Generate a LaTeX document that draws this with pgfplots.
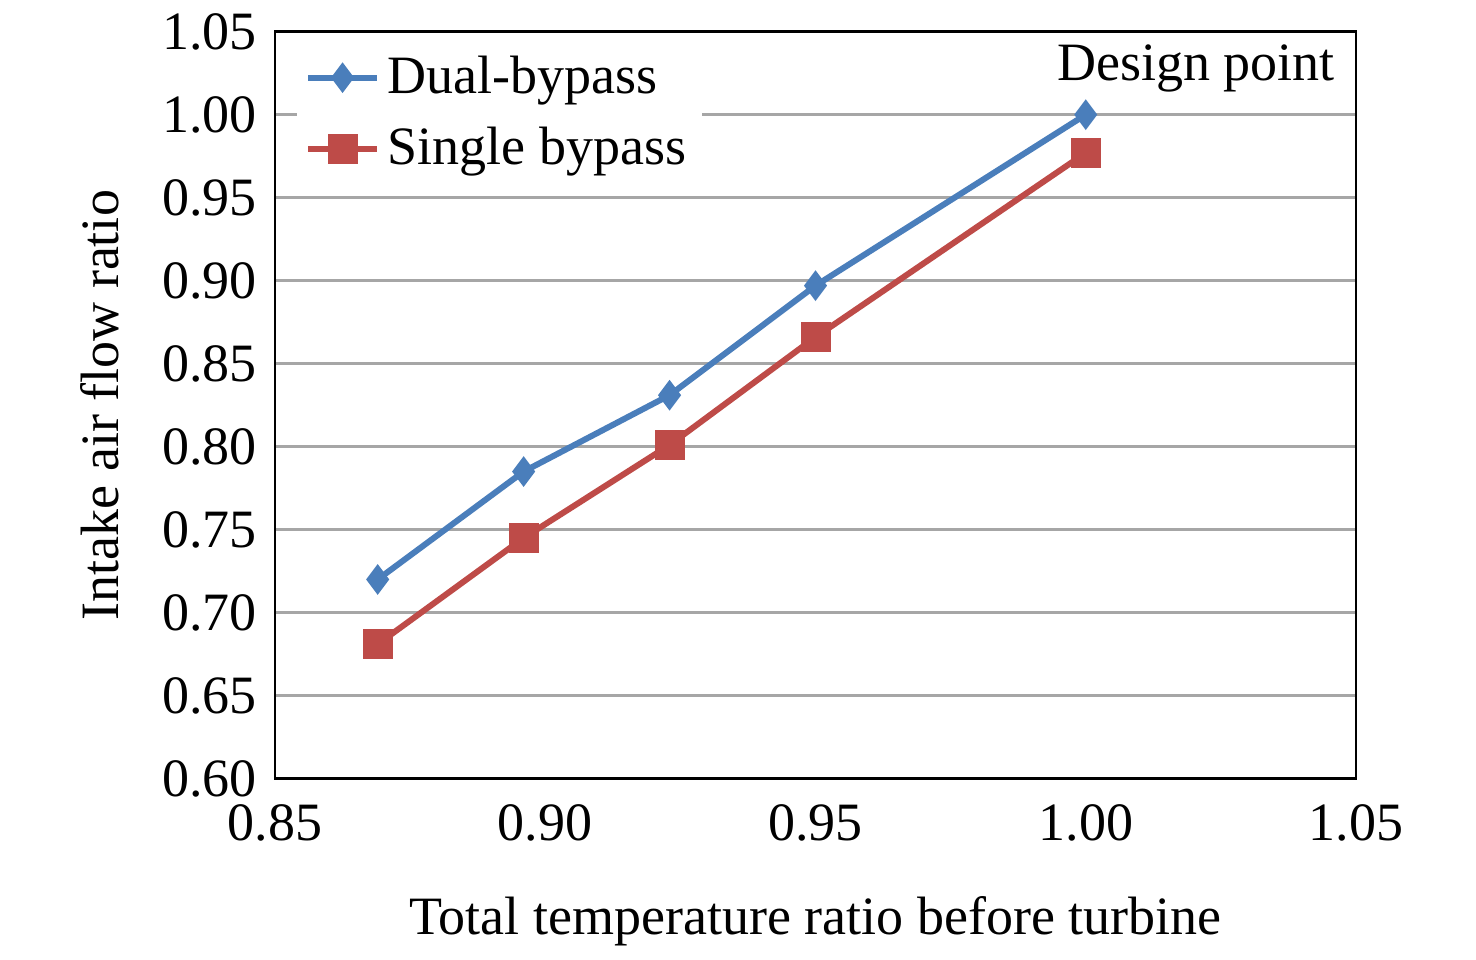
\documentclass[border=0pt]{standalone}
\usepackage{pgfplots}
\pgfplotsset{compat=1.18}
\usepackage{fontspec}
\setmainfont{Liberation Serif}
\definecolor{cblue}{RGB}{74,126,187}
\definecolor{cred}{RGB}{190,75,72}
\begin{document}
\begin{tikzpicture}
\begin{axis}[
  scale only axis, width=270.25pt, height=186.75pt,
  xmin=0.85, xmax=1.05, ymin=0.60, ymax=1.05,
  xtick={0.85,0.90,...,1.05}, ytick={0.60,0.65,...,1.05},
  /pgf/number format/.cd, fixed, fixed zerofill, precision=2, assume math mode=true,
  /pgfplots/.cd,
  ymajorgrids, grid style={gray!70, line width=0.6pt},
  major tick length=0pt,
  axis line style={line width=0.7pt},
  tick label style={font=\fontsize{13.5}{16}\selectfont},
  yticklabel style={xshift=-1pt},
  xticklabel style={yshift=-3pt},
  label style={font=\fontsize{13.5}{16}\selectfont},
  xlabel={Total temperature ratio before turbine},
  ylabel={Intake air flow ratio},
  xlabel style={yshift=-7pt},
  ylabel style={yshift=4pt},
  clip=false,
  legend style={at={(rel axis cs:0.02,0.99)}, anchor=north west, draw=none, fill=white,
    font=\fontsize{13.5}{16}\selectfont, row sep=3pt, inner sep=2pt},
  legend cell align=left,
]
\path[draw=none] (rel axis cs:-0.2544,-0.2115) rectangle (rel axis cs:1.111,1.0375);
\addplot[cblue, line width=1.5pt, mark=diamond*, mark size=2.6pt] coordinates {
 (0.869,0.720) (0.896,0.785) (0.923,0.831) (0.950,0.897) (1.000,1.000)};
\addlegendentry{Dual-bypass}
\addplot[cred, line width=1.5pt, mark=square*, mark size=3pt] coordinates {
 (0.869,0.681) (0.896,0.745) (0.923,0.801) (0.950,0.866) (1.000,0.977)};
\addlegendentry{Single bypass}
\node[font=\fontsize{13.5}{16}\selectfont] at (axis cs:1.0204,1.028) {Design point};
\end{axis}
\end{tikzpicture}
\end{document}
